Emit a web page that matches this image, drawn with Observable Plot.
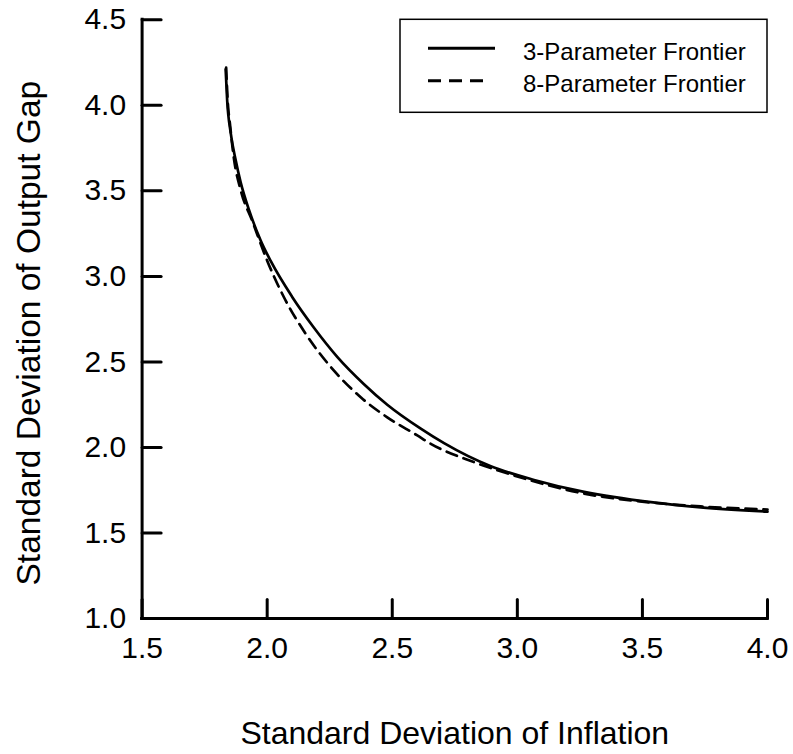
<!DOCTYPE html>
<html><head><meta charset="utf-8">
<script src="https://cdn.jsdelivr.net/npm/d3@7"></script>
<script src="https://cdn.jsdelivr.net/npm/@observablehq/plot@0.6"></script>
<style>body{margin:0;background:#fff;}</style>
</head><body><div id="chart"></div>
<script>
const xTicks = [1.5, 2.0, 2.5, 3.0, 3.5, 4.0];
const yTicks = [1.0, 1.5, 2.0, 2.5, 3.0, 3.5, 4.0, 4.5];
const xDomain = [1.5, 4.0];
const yDomain = [1.0, 4.5];
const seriesNames = ["3-Parameter Frontier", "8-Parameter Frontier"];
const xLabel = "Standard Deviation of Inflation";
const yLabel = "Standard Deviation of Output Gap";

const solidX = [1.834, 1.840, 1.854, 1.874, 1.894, 1.927, 1.974, 2.014, 2.100, 2.187, 2.280, 2.387, 2.480, 2.614, 2.707, 2.894, 3.067, 3.267, 3.534, 3.733, 4.000];
const solidY = [4.21, 4.03, 3.84, 3.68, 3.55, 3.39, 3.21, 3.09, 2.88, 2.70, 2.53, 2.37, 2.25, 2.11, 2.025, 1.89, 1.81, 1.74, 1.68, 1.65, 1.625];

const dashedX = [1.836, 1.842, 1.852, 1.866, 1.895, 1.940, 2.000, 2.067, 2.154, 2.267, 2.374, 2.480, 2.600, 2.654, 2.827, 2.987, 3.267, 3.534, 3.733, 4.000];
const dashedY = [4.22, 4.03, 3.88, 3.70, 3.50, 3.326, 3.092, 2.878, 2.664, 2.449, 2.293, 2.176, 2.070, 2.021, 1.914, 1.836, 1.73, 1.678, 1.655, 1.637];

const solidRows = solidX.map((x, i) => ({x, y: solidY[i], series: seriesNames[0]}));
const dashedRows = dashedX.map((x, i) => ({x, y: dashedY[i], series: seriesNames[1]}));

const W = 793, H = 754;
const FONT = "'Liberation Sans', Arial, Helvetica, sans-serif";
const tickShape = {draw(context, l) { context.moveTo(0, 0); context.lineTo(0, -l); }};
const fmt = d3.format(".1f");

const plot = Plot.plot({
  width: W, height: H,
  marginLeft: 141.6, marginRight: 26, marginTop: 19.3, marginBottom: 136,
  style: {fontFamily: FONT, background: "#fff", color: "#000", overflow: "visible"},
  x: {domain: xDomain},
  y: {domain: yDomain},
  marks: [
    Plot.axisX(xTicks, {tickSize: 0, tickPadding: 18, fontSize: 30, tickFormat: fmt, label: null}),
    Plot.axisY(yTicks, {tickSize: 0, tickPadding: 16, fontSize: 30, tickFormat: fmt, label: null}),
    Plot.vector(xTicks, {x: d => d, y: yDomain[0], length: 19, anchor: "start", rotate: 0, shape: tickShape, strokeWidth: 3, stroke: "#000"}),
    Plot.vector(yTicks, {x: xDomain[0], y: d => d, length: 19, anchor: "start", rotate: 90, shape: tickShape, strokeWidth: 3, stroke: "#000"}),
    Plot.ruleX([xDomain[0]], {y1: yDomain[0], y2: yDomain[1], strokeWidth: 3, strokeLinecap: "square", stroke: "#000"}),
    Plot.ruleY([yDomain[0]], {x1: xDomain[0], x2: xDomain[1], strokeWidth: 3, strokeLinecap: "square", stroke: "#000"}),
    Plot.line(solidRows, {x: "x", y: "y", stroke: "#000", strokeWidth: 2.7, curve: "monotone-x"}),
    Plot.line(dashedRows, {x: "x", y: "y", stroke: "#000", strokeWidth: 2.7, strokeDasharray: "11,7", curve: "monotone-x"}),
    Plot.text([xLabel], {text: d => d, frameAnchor: "bottom", textAnchor: "middle", lineAnchor: "middle", dy: 115, fontSize: 32, fill: "#000"}),
    Plot.text([yLabel], {text: d => d, frameAnchor: "left", textAnchor: "middle", lineAnchor: "middle", dx: -113, dy: 14, rotate: -90, fontSize: 33.5, fill: "#000"})
  ]
});

document.getElementById("chart").appendChild(plot);

// Legend (top-right inside the frame)
const sx = plot.scale("x"), sy = plot.scale("y");
const frameRight = sx.apply(xDomain[1]), frameTop = sy.apply(yDomain[1]);
const boxW = 367, boxH = 93;
const g = d3.select(plot).append("g").attr("transform", `translate(${frameRight - boxW},${frameTop})`);
g.append("rect").attr("x", 0).attr("y", 0).attr("width", boxW).attr("height", boxH)
  .attr("fill", "#fff").attr("stroke", "#000").attr("stroke-width", 1.5);
const dashes = [null, "13,8"];
const sampleEnd = [95, 85];
seriesNames.forEach((name, i) => {
  const yy = 29 + i * 32.5;
  g.append("line").attr("x1", 28).attr("x2", sampleEnd[i]).attr("y1", yy).attr("y2", yy)
    .attr("stroke", "#000").attr("stroke-width", 3)
    .attr("stroke-dasharray", dashes[i]);
  g.append("text").attr("x", 123).attr("y", yy + 3).attr("dominant-baseline", "central")
    .attr("text-anchor", "start")
    .attr("font-size", 24).attr("font-family", FONT).attr("fill", "#000").text(name);
});
</script>
</body></html>
